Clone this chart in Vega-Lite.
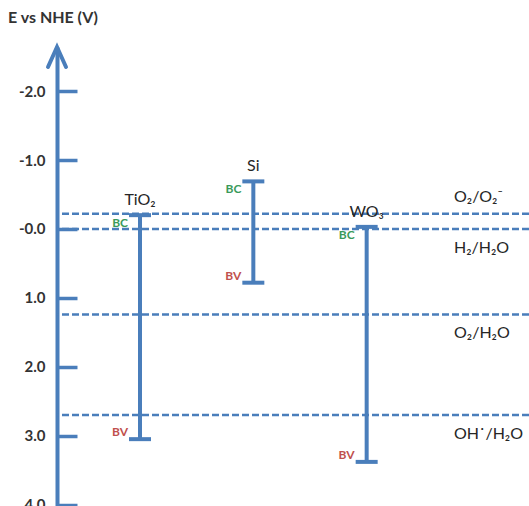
{
  "$schema": "https://vega.github.io/schema/vega-lite/v6.json",
  "width": 472,
  "height": 459,
  "autosize": {"type": "none"},
  "padding": {"left": 57, "top": 47, "right": 0, "bottom": 0},
  "background": "white",
  "config": {"view": {"stroke": null}, "font": "Lato"},
  "title": {"text": "E vs NHE (V)", "anchor": "start", "frame": "group", "dx": -49, "offset": 13, "fontSize": 16, "fontWeight": "bold", "color": "#333333", "font": "Lato"},
  "datasets": {
    "materials": [
      {"material": "TiO₂", "BC": -0.2, "BV": 3.05},
      {"material": "Si", "BC": -0.69, "BV": 0.78},
      {"material": "WO₃", "BC": -0.03, "BV": 3.38}
    ],
    "couples": [
      {"couple": "O₂/O₂⁻", "E": -0.22, "side": "above"},
      {"couple": "H₂/H₂O", "E": 0.0, "side": "below"},
      {"couple": "O₂/H₂O", "E": 1.24, "side": "below"},
      {"couple": "OH˙/H₂O", "E": 2.7, "side": "below"}
    ]
  },
  "layer": [
    {
      "data": {"name": "couples"},
      "mark": {"type": "rule", "stroke": "#4a7ebb", "strokeWidth": 2.5, "strokeDash": [7, 3]},
      "encoding": {
        "y": {
          "field": "E", "type": "quantitative",
          "scale": {"domain": [-2.64, 4.02], "reverse": true, "nice": false, "zero": false},
          "axis": {
            "values": [-2, -1, 0, 1, 2, 3, 4],
            "labelExpr": "datum.value <= 0 ? '-' + format(abs(datum.value), '.1f') : format(datum.value, '.1f')",
            "title": null, "grid": false,
            "domainColor": "#4a7ebb", "domainWidth": 4,
            "tickColor": "#4a7ebb", "tickWidth": 3.5, "tickSize": -20,
            "labelPadding": 32, "labelFont": "Lato", "labelFontWeight": "bold", "labelFontSize": 15,
            "labelColor": "#333333", "labelOverlap": false, "labelBound": false, "labelFlush": false
          }
        }
      }
    },
    {
      "data": {"name": "materials"},
      "mark": {"type": "rule", "stroke": "#4a7ebb", "strokeWidth": 4},
      "encoding": {
        "x": {"field": "material", "type": "nominal", "scale": {"type": "point", "domain": ["TiO₂", "Si", "WO₃", "redox"], "range": [83, 423], "padding": 0}, "axis": null},
        "y": {"field": "BC", "type": "quantitative"},
        "y2": {"field": "BV"}
      }
    },
    {
      "data": {"name": "materials"},
      "mark": {"type": "tick", "orient": "horizontal", "color": "#4a7ebb", "size": 22, "thickness": 4, "opacity": 1},
      "encoding": {
        "x": {"field": "material", "type": "nominal"},
        "y": {"field": "BC", "type": "quantitative"}
      }
    },
    {
      "data": {"name": "materials"},
      "mark": {"type": "tick", "orient": "horizontal", "color": "#4a7ebb", "size": 22, "thickness": 4, "opacity": 1},
      "encoding": {
        "x": {"field": "material", "type": "nominal"},
        "y": {"field": "BV", "type": "quantitative"}
      }
    },
    {
      "data": {"name": "materials"},
      "mark": {"type": "text", "fontSize": 16, "color": "#262626", "dy": -15, "baseline": "middle"},
      "encoding": {
        "x": {"field": "material", "type": "nominal"},
        "y": {"field": "BC", "type": "quantitative"},
        "text": {"field": "material"}
      }
    },
    {
      "data": {"name": "materials"},
      "mark": {"type": "text", "fontSize": 12, "fontWeight": "bold", "color": "#3a9a5a", "dx": -12, "dy": 8, "align": "right", "baseline": "middle"},
      "encoding": {
        "x": {"field": "material", "type": "nominal"},
        "y": {"field": "BC", "type": "quantitative"},
        "text": {"value": "BC"}
      }
    },
    {
      "data": {"name": "materials"},
      "mark": {"type": "text", "fontSize": 12, "fontWeight": "bold", "color": "#c0504d", "dx": -12, "dy": -7, "align": "right", "baseline": "middle"},
      "encoding": {
        "x": {"field": "material", "type": "nominal"},
        "y": {"field": "BV", "type": "quantitative"},
        "text": {"value": "BV"}
      }
    },
    {
      "data": {"name": "couples"},
      "transform": [{"filter": "datum.side == 'above'"}],
      "mark": {"type": "text", "fontSize": 16, "color": "#262626", "dx": -26, "dy": -17, "align": "left", "baseline": "middle"},
      "encoding": {
        "x": {"datum": "redox", "type": "nominal"},
        "y": {"field": "E", "type": "quantitative"},
        "text": {"field": "couple"}
      }
    },
    {
      "data": {"name": "couples"},
      "transform": [{"filter": "datum.side == 'below'"}],
      "mark": {"type": "text", "fontSize": 16, "color": "#262626", "dx": -26, "dy": 19, "align": "left", "baseline": "middle"},
      "encoding": {
        "x": {"datum": "redox", "type": "nominal"},
        "y": {"field": "E", "type": "quantitative"},
        "text": {"field": "couple"}
      }
    },
    {
      "data": {"values": [{"E": -2.64}]},
      "mark": {"type": "point", "shape": "M -0.9 2 L 0 0 L 0.9 2", "filled": false, "stroke": "#4a7ebb", "strokeWidth": 4, "size": 400, "opacity": 1, "strokeCap": "round", "strokeJoin": "miter"},
      "encoding": {
        "x": {"value": 0},
        "y": {"field": "E", "type": "quantitative"}
      }
    }
  ]
}
